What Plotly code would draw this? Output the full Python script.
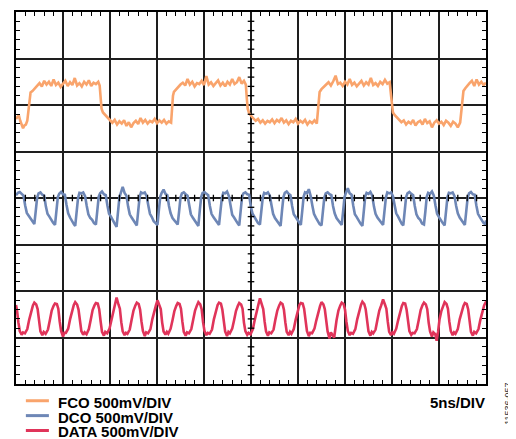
import plotly.graph_objects as go

# time in divisions (5 ns/div), amplitude in divisions (500 mV/div, 0 = bottom of screen)
fco_t = [0.00, 0.03, 0.06, 0.09, 0.12, 0.15, 0.18, 0.21, 0.24, 0.27, 0.29, 0.31, 0.35, 0.40, 0.45,
         0.50, 0.55, 0.60, 0.65, 0.70, 0.75, 0.80, 0.85, 0.90, 0.95, 1.00, 1.05, 1.10, 1.15, 1.20,
         1.25, 1.30, 1.35, 1.40, 1.45, 1.50, 1.55, 1.60, 1.65, 1.70, 1.75, 1.78, 1.80, 1.82, 1.85,
         1.90, 1.95, 2.00, 2.05, 2.10, 2.15, 2.20, 2.25, 2.30, 2.35, 2.40, 2.45, 2.50, 2.55, 2.60,
         2.65, 2.70, 2.75, 2.80, 2.85, 2.90, 2.95, 3.00, 3.05, 3.10, 3.15, 3.20, 3.25, 3.30, 3.32,
         3.34, 3.36, 3.40, 3.45, 3.50, 3.55, 3.60, 3.65, 3.70, 3.75, 3.80, 3.85, 3.90, 3.95, 4.00,
         4.05, 4.10, 4.15, 4.20, 4.25, 4.30, 4.35, 4.40, 4.45, 4.50, 4.55, 4.60, 4.65, 4.70, 4.75,
         4.80, 4.85, 4.89, 4.91, 4.93, 4.96, 5.00, 5.05, 5.10, 5.15, 5.20, 5.25, 5.30, 5.35, 5.40,
         5.45, 5.50, 5.55, 5.60, 5.65, 5.70, 5.75, 5.80, 5.85, 5.90, 5.95, 6.00, 6.05, 6.10, 6.15,
         6.20, 6.25, 6.30, 6.35, 6.40, 6.42, 6.44, 6.46, 6.50, 6.55, 6.60, 6.65, 6.70, 6.75, 6.80,
         6.85, 6.90, 6.95, 7.00, 7.05, 7.10, 7.15, 7.20, 7.25, 7.30, 7.35, 7.40, 7.45, 7.50, 7.55,
         7.60, 7.65, 7.70, 7.75, 7.80, 7.85, 7.90, 7.95, 7.98, 8.00, 8.02, 8.06, 8.10, 8.15, 8.20,
         8.25, 8.30, 8.35, 8.40, 8.45, 8.50, 8.55, 8.60, 8.65, 8.70, 8.75, 8.80, 8.85, 8.90, 8.95,
         9.00, 9.05, 9.10, 9.15, 9.20, 9.25, 9.30, 9.35, 9.40, 9.45, 9.48, 9.50, 9.52, 9.56, 9.60,
         9.65, 9.70, 9.75, 9.80, 9.85, 9.90, 9.95, 10.00]
fco_v = [5.70, 5.74, 5.78, 5.66, 5.55, 5.50, 5.56, 5.58, 5.66, 5.95, 6.18, 6.27, 6.30, 6.36, 6.42,
         6.47, 6.40, 6.52, 6.44, 6.50, 6.41, 6.55, 6.43, 6.48, 6.39, 6.47, 6.52, 6.41, 6.49, 6.43,
         6.58, 6.42, 6.47, 6.40, 6.50, 6.44, 6.53, 6.41, 6.48, 6.45, 6.50, 6.42, 6.15, 5.92, 5.84,
         5.78, 5.72, 5.68, 5.62, 5.68, 5.58, 5.65, 5.60, 5.67, 5.55, 5.63, 5.52, 5.61, 5.66, 5.59,
         5.72, 5.62, 5.68, 5.60, 5.66, 5.63, 5.70, 5.61, 5.67, 5.62, 5.68, 5.60, 5.65, 5.62, 5.95,
         6.20, 6.28, 6.33, 6.39, 6.44, 6.48, 6.42, 6.56, 6.44, 6.50, 6.40, 6.47, 6.45, 6.52, 6.43,
         6.62, 6.44, 6.49, 6.41, 6.47, 6.53, 6.42, 6.48, 6.40, 6.50, 6.44, 6.56, 6.45, 6.49, 6.60,
         6.46, 6.52, 6.44, 6.15, 5.92, 5.82, 5.76, 5.71, 5.66, 5.70, 5.62, 5.67, 5.60, 5.66, 5.63,
         5.69, 5.61, 5.68, 5.64, 5.72, 5.62, 5.67, 5.59, 5.66, 5.63, 5.70, 5.60, 5.66, 5.62, 5.68,
         5.58, 5.65, 5.61, 5.67, 5.60, 5.90, 6.18, 6.28, 6.34, 6.40, 6.44, 6.49, 6.42, 6.51, 6.63,
         6.45, 6.48, 6.41, 6.50, 6.44, 6.56, 6.43, 6.48, 6.40, 6.47, 6.52, 6.42, 6.49, 6.44, 6.58,
         6.43, 6.47, 6.41, 6.50, 6.45, 6.54, 6.46, 6.49, 6.20, 5.95, 5.84, 5.78, 5.73, 5.68, 5.63,
         5.67, 5.58, 5.64, 5.60, 5.68, 5.56, 5.63, 5.66, 5.58, 5.70, 5.61, 5.65, 5.52, 5.62, 5.67,
         5.60, 5.64, 5.57, 5.66, 5.62, 5.55, 5.64, 5.60, 5.52, 5.62, 5.90, 6.20, 6.30, 6.36, 6.42,
         6.47, 6.52, 6.41, 6.55, 6.44, 6.50, 6.43, 6.48]

dco_t = [0.00, 0.04, 0.08, 0.12, 0.16, 0.195, 0.23, 0.27, 0.31, 0.35,
         0.39, 0.42, 0.45, 0.48, 0.52, 0.56, 0.60, 0.635, 0.67, 0.71, 0.75, 0.79,
         0.83, 0.86, 0.89, 0.92, 0.96, 1.00, 1.04, 1.075, 1.11, 1.15, 1.19, 1.23,
         1.26, 1.29, 1.32, 1.35, 1.39, 1.43, 1.47, 1.505, 1.54, 1.58, 1.62, 1.66,
         1.70, 1.73, 1.76, 1.79, 1.83, 1.87, 1.91, 1.945, 1.98, 2.02, 2.06, 2.10,
         2.14, 2.17, 2.20, 2.23, 2.27, 2.31, 2.35, 2.385, 2.42, 2.46, 2.50, 2.54,
         2.57, 2.60, 2.63, 2.66, 2.70, 2.74, 2.78, 2.815, 2.85, 2.89, 2.93, 2.97,
         3.01, 3.04, 3.07, 3.10, 3.14, 3.18, 3.22, 3.255, 3.29, 3.33, 3.37, 3.41,
         3.44, 3.47, 3.50, 3.53, 3.57, 3.61, 3.65, 3.685, 3.72, 3.76, 3.80, 3.84,
         3.88, 3.91, 3.94, 3.97, 4.01, 4.05, 4.09, 4.125, 4.16, 4.20, 4.24, 4.28,
         4.32, 4.35, 4.38, 4.41, 4.45, 4.49, 4.53, 4.565, 4.60, 4.64, 4.68, 4.72,
         4.75, 4.78, 4.81, 4.84, 4.88, 4.92, 4.96, 4.995, 5.03, 5.07, 5.11, 5.15,
         5.19, 5.22, 5.25, 5.28, 5.32, 5.36, 5.40, 5.435, 5.47, 5.51, 5.55, 5.59,
         5.63, 5.66, 5.69, 5.72, 5.76, 5.80, 5.84, 5.875, 5.91, 5.95, 5.99, 6.03,
         6.06, 6.09, 6.12, 6.15, 6.19, 6.23, 6.27, 6.305, 6.34, 6.38, 6.42, 6.46,
         6.50, 6.53, 6.56, 6.59, 6.63, 6.67, 6.71, 6.745, 6.78, 6.82, 6.86, 6.90,
         6.93, 6.96, 6.99, 7.02, 7.06, 7.10, 7.14, 7.175, 7.21, 7.25, 7.29, 7.33,
         7.37, 7.40, 7.43, 7.46, 7.50, 7.54, 7.58, 7.615, 7.65, 7.69, 7.73, 7.77,
         7.81, 7.84, 7.87, 7.90, 7.94, 7.98, 8.02, 8.055, 8.09, 8.13, 8.17, 8.21,
         8.24, 8.27, 8.30, 8.33, 8.37, 8.41, 8.45, 8.485, 8.52, 8.56, 8.60, 8.64,
         8.68, 8.71, 8.74, 8.77, 8.81, 8.85, 8.89, 8.925, 8.96, 9.00, 9.04, 9.08,
         9.12, 9.15, 9.18, 9.21, 9.25, 9.29, 9.33, 9.365, 9.40, 9.44, 9.48, 9.52,
         9.55, 9.58, 9.61, 9.64, 9.68, 9.72, 9.76, 9.795, 9.83, 9.87, 9.91, 9.95,
         9.99, 10.00]
dco_v = [4.06, 4.11, 4.13, 4.09, 4.05, 3.84, 3.68, 3.62, 3.55, 3.48,
         3.44, 3.72, 4.01, 4.10, 4.12, 4.07, 4.05, 3.82, 3.66, 3.60, 3.52, 3.47,
         3.42, 3.74, 4.02, 4.09, 4.13, 4.08, 4.07, 3.85, 3.67, 3.58, 3.50, 3.44,
         3.40, 3.70, 4.00, 4.11, 4.10, 4.12, 4.04, 3.83, 3.65, 3.57, 3.53, 3.46,
         3.43, 3.73, 4.03, 4.10, 4.14, 4.08, 4.06, 3.84, 3.66, 3.60, 3.51, 3.45,
         3.38, 3.71, 4.01, 4.11, 4.24, 4.11, 4.05, 3.82, 3.65, 3.58, 3.52, 3.44,
         3.41, 3.72, 4.02, 4.12, 4.10, 4.12, 4.04, 3.84, 3.66, 3.59, 3.50, 3.46,
         3.42, 3.74, 4.03, 4.11, 4.18, 4.09, 4.06, 3.83, 3.67, 3.57, 3.52, 3.45,
         3.43, 3.71, 4.01, 4.10, 4.12, 4.08, 4.05, 3.85, 3.65, 3.58, 3.51, 3.44,
         3.40, 3.73, 4.02, 4.11, 4.13, 4.09, 4.06, 3.83, 3.66, 3.59, 3.53, 3.46,
         3.42, 3.72, 4.00, 4.11, 4.10, 4.14, 4.04, 3.84, 3.64, 3.58, 3.50, 3.45,
         3.41, 3.74, 4.03, 4.10, 4.12, 4.08, 4.07, 3.82, 3.67, 3.60, 3.52, 3.46,
         3.43, 3.71, 4.01, 4.11, 4.09, 4.12, 4.05, 3.85, 3.66, 3.57, 3.51, 3.44,
         3.40, 3.73, 4.02, 4.11, 4.14, 4.09, 4.06, 3.83, 3.65, 3.59, 3.52, 3.45,
         3.42, 3.72, 4.03, 4.12, 4.10, 4.19, 4.04, 3.84, 3.66, 3.58, 3.50, 3.44,
         3.41, 3.74, 4.01, 4.10, 4.12, 4.08, 4.06, 3.83, 3.67, 3.57, 3.52, 3.45,
         3.42, 3.71, 4.02, 4.11, 4.21, 4.10, 4.07, 3.84, 3.65, 3.59, 3.51, 3.45,
         3.40, 3.73, 4.03, 4.11, 4.09, 4.13, 4.05, 3.82, 3.66, 3.58, 3.52, 3.46,
         3.42, 3.72, 4.01, 4.12, 4.10, 4.12, 4.04, 3.85, 3.67, 3.60, 3.50, 3.44,
         3.41, 3.74, 4.02, 4.10, 4.13, 4.09, 4.06, 3.83, 3.65, 3.57, 3.53, 3.45,
         3.43, 3.71, 4.03, 4.11, 4.09, 4.14, 4.05, 3.84, 3.66, 3.59, 3.51, 3.46,
         3.41, 3.73, 4.02, 4.11, 4.10, 4.12, 4.04, 3.83, 3.67, 3.58, 3.52, 3.45,
         3.42, 3.72, 4.01, 4.10, 4.13, 4.08, 4.07, 3.84, 3.66, 3.59, 3.53, 3.46,
         3.43, 3.52]

data_t = [0.00, 0.02, 0.05, 0.08, 0.12, 0.15,
          0.19, 0.24, 0.28, 0.32, 0.36, 0.39, 0.43, 0.46, 0.49, 0.52, 0.56, 0.59,
          0.63, 0.68, 0.72, 0.76, 0.80, 0.83, 0.87, 0.90, 0.93, 0.96, 1.00, 1.03,
          1.06, 1.11, 1.15, 1.19, 1.23, 1.26, 1.30, 1.33, 1.36, 1.39, 1.43, 1.46,
          1.50, 1.55, 1.59, 1.63, 1.67, 1.70, 1.74, 1.77, 1.80, 1.83, 1.87, 1.90,
          1.94, 1.99, 2.03, 2.07, 2.11, 2.14, 2.18, 2.21, 2.24, 2.27, 2.31, 2.34,
          2.37, 2.42, 2.46, 2.50, 2.54, 2.57, 2.61, 2.64, 2.67, 2.70, 2.74, 2.77,
          2.81, 2.86, 2.90, 2.94, 2.98, 3.01, 3.05, 3.08, 3.11, 3.14, 3.18, 3.21,
          3.24, 3.29, 3.33, 3.37, 3.41, 3.44, 3.48, 3.51, 3.54, 3.57, 3.61, 3.64,
          3.68, 3.73, 3.77, 3.81, 3.85, 3.88, 3.92, 3.95, 3.98, 4.01, 4.05, 4.08,
          4.12, 4.17, 4.21, 4.25, 4.29, 4.32, 4.36, 4.39, 4.42, 4.45, 4.49, 4.52,
          4.55, 4.60, 4.64, 4.68, 4.72, 4.75, 4.79, 4.82, 4.85, 4.88, 4.92, 4.95,
          4.99, 5.04, 5.08, 5.12, 5.16, 5.19, 5.23, 5.26, 5.29, 5.32, 5.36, 5.39,
          5.43, 5.48, 5.52, 5.56, 5.60, 5.63, 5.67, 5.70, 5.73, 5.76, 5.80, 5.83,
          5.86, 5.91, 5.95, 5.99, 6.03, 6.06, 6.10, 6.13, 6.16, 6.19, 6.23, 6.26,
          6.30, 6.35, 6.39, 6.43, 6.47, 6.50, 6.54, 6.57, 6.60, 6.63, 6.67, 6.70,
          6.73, 6.77, 6.82, 6.86, 6.90, 6.93, 6.97, 7.00, 7.03, 7.06, 7.10, 7.13,
          7.17, 7.22, 7.26, 7.30, 7.34, 7.37, 7.41, 7.44, 7.47, 7.50, 7.54, 7.57,
          7.60, 7.65, 7.69, 7.73, 7.77, 7.81, 7.85, 7.88, 7.91, 7.94, 7.98, 8.01,
          8.04, 8.09, 8.13, 8.17, 8.21, 8.24, 8.28, 8.31, 8.34, 8.37, 8.41, 8.44,
          8.48, 8.53, 8.57, 8.61, 8.65, 8.68, 8.72, 8.75, 8.78, 8.81, 8.85, 8.88,
          8.92, 8.95, 8.98, 9.01, 9.05, 9.09, 9.12, 9.16, 9.19, 9.22, 9.25, 9.29, 9.32,
          9.35, 9.40, 9.44, 9.48, 9.52, 9.55, 9.59, 9.62, 9.65, 9.68, 9.72, 9.75,
          9.79, 9.84, 9.88, 9.92, 9.96, 9.99, 10.00]
data_v = [1.70, 1.60, 1.33, 1.14, 1.06, 1.11,
          1.09, 1.18, 1.38, 1.57, 1.69, 1.75, 1.71, 1.61, 1.33, 1.13, 1.05, 1.12,
          1.08, 1.17, 1.37, 1.58, 1.68, 1.73, 1.72, 1.62, 1.34, 1.14, 1.02, 1.10,
          1.10, 1.19, 1.39, 1.57, 1.70, 1.76, 1.71, 1.60, 1.32, 1.14, 1.06, 1.11,
          1.07, 1.18, 1.38, 1.59, 1.69, 1.74, 1.73, 1.61, 1.35, 1.12, 1.04, 1.12,
          1.09, 1.19, 1.37, 1.56, 1.70, 1.86, 1.71, 1.62, 1.33, 1.13, 1.05, 1.10,
          1.08, 1.17, 1.38, 1.58, 1.69, 1.75, 1.72, 1.60, 1.34, 1.14, 1.03, 1.11,
          1.09, 1.18, 1.39, 1.57, 1.70, 1.80, 1.71, 1.61, 1.32, 1.13, 1.06, 1.12,
          1.08, 1.19, 1.37, 1.57, 1.68, 1.74, 1.72, 1.62, 1.34, 1.12, 1.04, 1.11,
          1.09, 1.18, 1.38, 1.58, 1.69, 1.76, 1.71, 1.61, 1.33, 1.14, 1.05, 1.10,
          1.08, 1.17, 1.39, 1.56, 1.70, 1.75, 1.73, 1.60, 1.35, 1.13, 1.03, 1.12,
          1.09, 1.19, 1.37, 1.57, 1.68, 1.74, 1.71, 1.62, 1.32, 1.14, 1.06, 1.10,
          1.07, 1.18, 1.38, 1.59, 1.72, 1.84, 1.72, 1.61, 1.34, 1.13, 1.04, 1.11,
          1.09, 1.17, 1.39, 1.58, 1.69, 1.75, 1.72, 1.60, 1.33, 1.12, 1.05, 1.12,
          1.08, 1.18, 1.38, 1.57, 1.70, 1.74, 1.73, 1.62, 1.34, 1.14, 1.03, 1.10,
          1.09, 1.19, 1.37, 1.56, 1.68, 1.76, 1.71, 1.61, 1.32, 1.13, 0.98, 1.11,
          1.06, 1.00, 1.37, 1.58, 1.69, 1.75, 1.72, 1.60, 1.34, 1.14, 1.05, 1.10,
          1.08, 1.18, 1.39, 1.57, 1.70, 1.77, 1.72, 1.61, 1.33, 1.13, 1.04, 1.12,
          1.09, 1.17, 1.38, 1.58, 1.69, 1.82, 1.71, 1.62, 1.34, 1.12, 1.05, 1.11,
          1.08, 1.19, 1.37, 1.56, 1.68, 1.74, 1.73, 1.60, 1.35, 1.14, 1.06, 1.10,
          1.09, 1.18, 1.38, 1.59, 1.70, 1.75, 1.71, 1.61, 1.32, 1.13, 1.02, 1.11,
          1.07, 0.93, 1.12, 1.38, 1.57, 1.69, 1.76, 1.72, 1.62, 1.34, 1.14, 1.05, 1.11,
          1.08, 1.18, 1.39, 1.57, 1.68, 1.74, 1.72, 1.61, 1.33, 1.12, 1.04, 1.12,
          1.09, 1.18, 1.38, 1.57, 1.69, 1.75, 1.74]

channels = ["FCO 500mV/DIV", "DCO 500mV/DIV", "DATA 500mV/DIV"]
colors = ["#F9A46C", "#6E87B6", "#E0345A"]
timebase = "5ns/DIV"
figure_id = "11536-057"

FONT = "Liberation Sans, Arial, sans-serif"

fig = go.Figure()
for name, t, v, c in zip(channels, [fco_t, dco_t, data_t], [fco_v, dco_v, data_v], colors):
    fig.add_trace(go.Scatter(x=t, y=v, mode="lines", name=name,
                             line=dict(color=c, width=2.6), showlegend=False))

axis = dict(showticklabels=False, showgrid=True, gridcolor="#1e1e1e", gridwidth=1.8,
            zeroline=False, showline=True, linecolor="black", linewidth=2,
            mirror="allticks", ticks="", fixedrange=True)
fig.update_xaxes(range=[0, 10], dtick=1, tick0=0,
                 minor=dict(dtick=0.2, ticks="inside", ticklen=4, tickwidth=1.3,
                            tickcolor="black", showgrid=False), **axis)
fig.update_yaxes(range=[0, 8], dtick=1, tick0=0,
                 minor=dict(dtick=0.2, ticks="inside", ticklen=4, tickwidth=1.3,
                            tickcolor="black", showgrid=False), **axis)

# small ticks across the centre graticule lines
shapes = []
for i in range(1, 50):
    if i % 5:
        shapes.append(dict(type="line", xref="x", yref="y", x0=i * 0.2, x1=i * 0.2,
                           y0=3.93, y1=4.07, line=dict(color="black", width=1.3)))
for i in range(1, 40):
    if i % 5:
        shapes.append(dict(type="line", xref="x", yref="y", x0=4.93, x1=5.07,
                           y0=i * 0.2, y1=i * 0.2, line=dict(color="black", width=1.3)))

# legend keys
legend_y = [-0.045, -0.085, -0.125]
annotations = []
for name, c, y in zip(channels, colors, legend_y):
    shapes.append(dict(type="line", xref="paper", yref="paper", x0=0.021, x1=0.070,
                       y0=y, y1=y, line=dict(color=c, width=3)))
    annotations.append(dict(text=name, xref="paper", yref="paper", x=0.087, y=y - 0.004,
                            xanchor="left", yanchor="middle", showarrow=False, borderpad=0,
                            font=dict(family=FONT, size=15, color="black", weight="bold")))
annotations.append(dict(text=timebase, xref="paper", yref="paper", x=1.0, y=legend_y[0] - 0.004,
                        xanchor="right", yanchor="middle", showarrow=False, borderpad=0,
                        font=dict(family=FONT, size=15, color="black", weight="bold")))
annotations.append(dict(text=figure_id, xref="paper", yref="paper", x=1.047, y=-0.053,
                        xanchor="center", yanchor="middle", textangle=-90, showarrow=False,
                        font=dict(family=FONT, size=9, color="#333333")))

# the page body adds an 8 px offset, so the figure is sized to fill the window after it
fig.update_layout(width=508, height=431, template="plotly_white",
                  plot_bgcolor="white", paper_bgcolor="white",
                  margin=dict(l=8, r=30, t=2, b=55),
                  shapes=shapes, annotations=annotations,
                  font=dict(family=FONT))
fig.write_html("out.html")
